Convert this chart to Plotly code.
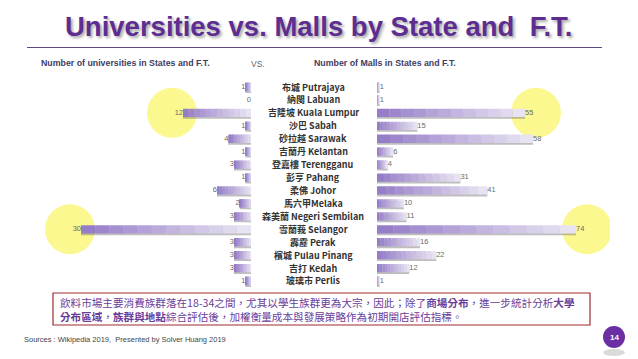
import plotly.graph_objects as go

W, H = 638, 359

# ---------------- data ----------------
states = ["布城 Putrajaya", "納閩 Labuan", "吉隆坡 Kuala Lumpur", "沙巴 Sabah", "砂拉越 Sarawak",
          "吉蘭丹 Kelantan", "登嘉樓 Terengganu", "彭亨 Pahang", "柔佛 Johor", "馬六甲Melaka",
          "森美蘭 Negeri Sembilan", "雪蘭莪 Selangor", "霹靂 Perak", "檳城 Pulau Pinang",
          "吉打 Kedah", "玻璃市 Perlis"]
universities = [1, 0, 12, 1, 4, 1, 3, 1, 6, 2, 3, 30, 3, 3, 3, 1]
malls = [1, 1, 55, 15, 58, 6, 4, 31, 41, 10, 11, 74, 16, 22, 12, 1]
highlighted = ["吉隆坡 Kuala Lumpur", "雪蘭莪 Selangor"]

title_text = "Universities vs. Malls by State and  F.T."
left_header = "Number of universities in States and F.T."
right_header = "Number of Malls in States and F.T."
vs_text = "VS."
note_line1 = ("飲料市場主要消費族群落在18-34之間，尤其以學生族群更為大宗，因此；除了<b>商場分布</b>，"
              "進一步統計分析<b>大學</b>")
note_line2 = "<b>分布區域</b>，<b>族群與地點</b>綜合評估後，加權衡量成本與發展策略作為初期開店評估指標。"
source_text = "Sources : Wikipedia 2019,  Presented by Solver Huang 2019"
page_no = "14"


def px(x):
    return x / W


def py(y):
    return 1 - y / H


PURPLE = (150, 125, 200)
LIGHT = (232, 227, 243)


def mix(a, b, t):
    return "rgb(%d,%d,%d)" % tuple(round(a[i] + (b[i] - a[i]) * t) for i in range(3))


N = 12
BW = 0.64
fig = go.Figure()

# shadows
for axis, vals in (("x", universities), ("x2", malls)):
    fig.add_trace(go.Bar(
        y=states, x=vals, base=[0] * len(vals), orientation="h", xaxis=axis, yaxis="y",
        width=BW, offset=-BW / 2 + 0.14, marker=dict(color="rgba(110,110,110,0.45)", line_width=0),
        hoverinfo="skip", showlegend=False))

# gradient segments
for k in range(N):
    t = k / (N - 1)
    # left: inner (k=0) light -> outer purple
    fig.add_trace(go.Bar(
        y=states, x=[v / N for v in universities], base=[v * k / N for v in universities],
        orientation="h", xaxis="x", yaxis="y", width=BW,
        marker=dict(color=mix(LIGHT, PURPLE, t), line_width=0),
        hoverinfo="skip", showlegend=False))
    # right: inner (k=0) purple -> outer light
    fig.add_trace(go.Bar(
        y=states, x=[v / N for v in malls], base=[v * k / N for v in malls],
        orientation="h", xaxis="x2", yaxis="y", width=BW,
        marker=dict(color=mix(PURPLE, LIGHT, t), line_width=0),
        hoverinfo="skip", showlegend=False))

# value labels
fig.add_trace(go.Scatter(
    y=states, x=universities, text=[str(v) for v in universities], mode="text",
    textposition="middle left", xaxis="x", yaxis="y", cliponaxis=False,
    textfont=dict(family="Liberation Sans, Arial", size=7.5, color="#6a6a6a"),
    hoverinfo="skip", showlegend=False))
fig.add_trace(go.Scatter(
    y=states, x=malls, text=[str(v) for v in malls], mode="text",
    textposition="middle right", xaxis="x2", yaxis="y", cliponaxis=False,
    textfont=dict(family="Liberation Sans, Arial", size=7.5, color="#6a6a6a"),
    hoverinfo="skip", showlegend=False))

shapes = []
# yellow highlight circles centred near the value labels
for s in highlighted:
    i = states.index(s)
    shapes.append(dict(type="circle", xref="x", yref="y", xsizemode="pixel", ysizemode="pixel",
                       xanchor=universities[i], yanchor=s, x0=-36, x1=14, y0=-25, y1=25,
                       fillcolor="rgba(250,247,125,0.85)", line_width=0, layer="below"))
    shapes.append(dict(type="circle", xref="x2", yref="y", xsizemode="pixel", ysizemode="pixel",
                       xanchor=malls[i], yanchor=s, x0=-14, x1=36, y0=-25, y1=25,
                       fillcolor="rgba(250,247,125,0.85)", line_width=0, layer="below"))

# title underline
shapes.append(dict(type="line", xref="paper", yref="paper", x0=px(27), x1=px(602),
                   y0=py(47.5), y1=py(47.5), line=dict(color="#5e4a80", width=1.2)))
# note box
shapes.append(dict(type="rect", xref="paper", yref="paper", x0=px(53), x1=px(590),
                   y0=py(325), y1=py(293), line=dict(color="#9e2a2e", width=1.2),
                   fillcolor="white"))
# page number shadow + circle
shapes.append(dict(type="circle", xref="paper", yref="paper", x0=px(603), x1=px(625),
                   y0=py(356), y1=py(349), fillcolor="rgba(150,150,150,0.35)", line_width=0))
shapes.append(dict(type="circle", xref="paper", yref="paper", x0=px(603), x1=px(625),
                   y0=py(348), y1=py(326), fillcolor="#6b2fa3", line_width=0))

ann = []
for s in states:
    ann.append(dict(xref="paper", yref="y", x=px(313), y=s, text=s, showarrow=False,
                    xanchor="center", yanchor="middle",
                    font=dict(family="Noto Sans CJK TC", size=9.0, color="#333333", weight=700)))

ann.append(dict(xref="paper", yref="paper", x=px(318), y=py(26), text=title_text, showarrow=False,
                xanchor="center", yanchor="middle",
                font=dict(family="Liberation Sans, Arial", size=27.5, color="#5d2d92", weight=700,
                          shadow="2px 2px 3px rgba(0,0,0,0.35)")))
ann.append(dict(xref="paper", yref="paper", x=px(125), y=py(63), text=left_header, showarrow=False,
                xanchor="center", yanchor="middle",
                font=dict(family="Liberation Sans, Arial", size=8.8, color="#3f3c62", weight=700)))
ann.append(dict(xref="paper", yref="paper", x=px(385), y=py(63), text=right_header, showarrow=False,
                xanchor="center", yanchor="middle",
                font=dict(family="Liberation Sans, Arial", size=8.8, color="#3f3c62", weight=700)))
ann.append(dict(xref="paper", yref="paper", x=px(258), y=py(64), text=vs_text, showarrow=False,
                xanchor="center", yanchor="middle",
                font=dict(family="Liberation Sans, Arial", size=8.5, color="#666666")))
ann.append(dict(xref="paper", yref="paper", x=px(58), y=py(302), text=note_line1, showarrow=False,
                xanchor="left", yanchor="middle",
                font=dict(family="Noto Sans CJK TC", size=10.6, color="#6a3d9a")))
ann.append(dict(xref="paper", yref="paper", x=px(58), y=py(316), text=note_line2, showarrow=False,
                xanchor="left", yanchor="middle",
                font=dict(family="Noto Sans CJK TC", size=10.6, color="#6a3d9a")))
ann.append(dict(xref="paper", yref="paper", x=px(22), y=py(339), text=source_text, showarrow=False,
                xanchor="left", yanchor="middle",
                font=dict(family="Liberation Sans, Arial", size=7.5, color="#444444")))
ann.append(dict(xref="paper", yref="paper", x=px(614), y=py(337), text=page_no, showarrow=False,
                xanchor="center", yanchor="middle",
                font=dict(family="Liberation Sans, Arial", size=8, color="white", weight=700)))

row = 12.93
y_top = 87 - row / 2
y_bot = 281 + row / 2

fig.update_layout(
    width=W, height=H, margin=dict(l=0, r=0, t=0, b=0),
    paper_bgcolor="white", plot_bgcolor="white",
    barmode="overlay", showlegend=False,
    xaxis=dict(domain=[px(30), px(251)], range=[39, 0], visible=False, fixedrange=True, anchor="y"),
    xaxis2=dict(domain=[px(377), px(610)], range=[0, 86.6], visible=False, fixedrange=True, anchor="y"),
    yaxis=dict(domain=[py(y_bot), py(y_top)], type="category", categoryorder="array",
               categoryarray=states, range=[len(states) - 0.5, -0.5], visible=False, fixedrange=True),
    shapes=shapes, annotations=ann,
)

fig.write_html("out.html", config={"displayModeBar": False},
               post_script="document.body.style.margin='0';")
